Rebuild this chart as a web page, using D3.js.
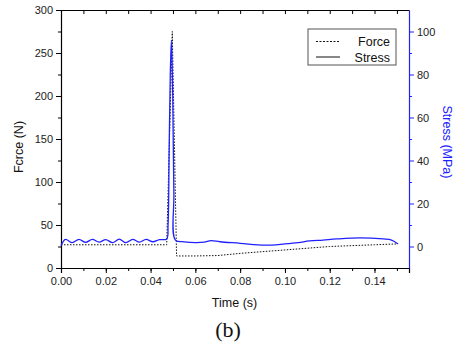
<!DOCTYPE html>
<html>
<head>
<meta charset="utf-8">
<script src="https://cdn.jsdelivr.net/npm/d3@7"></script>
<style>
  body { margin: 0; background: #fff; }
  text { font-family: "Liberation Sans", Arial, sans-serif; }
</style>
</head>
<body>
<div id="chart"></div>
<script>
// Force (N), left axis
const forceTime = [0, 0.0472, 0.0497, 0.0516, 0.060, 0.070, 0.080, 0.090, 0.100, 0.110, 0.120, 0.130, 0.140, 0.150];
const forceVals = [27, 27, 275, 14, 14, 14.5, 17, 19, 21, 23, 25, 26, 27, 28];

// Stress (MPa), right axis
const stressTime = [0, 0.002, 0.005, 0.008, 0.011, 0.014, 0.017, 0.020, 0.023, 0.026, 0.029, 0.032, 0.035,
  0.038, 0.041, 0.044, 0.0472, 0.0478, 0.0483, 0.0488, 0.0493, 0.0499, 0.0504, 0.0511,
  0.055, 0.060, 0.064, 0.067, 0.071, 0.080, 0.091, 0.100, 0.106, 0.111, 0.117, 0.123, 0.1335, 0.1439, 0.1476, 0.1505];
const stressVals = [0.4, 3.3, 1.8, 3.3, 1.9, 3.3, 2.0, 3.2, 1.8, 3.4, 1.8, 3.3, 2.0,
  3.3, 2.2, 3.2, 3.5, 10, 45, 80, 96, 70, 25, 3,
  2.2, 1.8, 2.0, 2.7, 2.2, 1.5, 0.6, 1.2, 1.8, 2.6, 3.0, 3.5, 4.0, 3.5, 3.0, 1.2];

const xTicks = [0, 0.02, 0.04, 0.06, 0.08, 0.10, 0.12, 0.14];
const forceTicks = [0, 50, 100, 150, 200, 250, 300];
const stressTicks = [0, 20, 40, 60, 80, 100];

const W = 456, H = 348;
const m = { left: 61, right: 47, top: 10, bottom: 80 };
const iw = W - m.left - m.right, ih = H - m.top - m.bottom;
const blue = "#2020ff";

const svg = d3.select("#chart").append("svg")
  .attr("width", W).attr("height", H);
const g = svg.append("g")
  .attr("transform", "translate(" + m.left + "," + m.top + ")");

const x = d3.scaleLinear().domain([0, 0.1554]).range([0, iw]);
const yF = d3.scaleLinear().domain([0, 300]).range([ih, 0]);
const yS = d3.scaleLinear().domain([-10, 110]).range([ih, 0]);

// minor ticks
const minorX = d3.range(0, 0.155, 0.01);
const minorF = d3.range(25, 300, 50);
const minorS = d3.range(10, 110, 20);

function styleAxis(sel, color) {
  sel.selectAll("path").attr("stroke", color).attr("stroke-width", 1.2);
  sel.selectAll("line").attr("stroke", color);
  sel.selectAll("text").attr("fill", "#222").style("font-size", "11px")
    .style("font-family", "Liberation Sans, Arial, sans-serif");
}

// bottom axis
const bx = g.append("g").attr("transform", "translate(0," + ih + ")")
  .call(d3.axisBottom(x).tickValues(xTicks).tickFormat(d3.format(".2f")).tickSizeOuter(0).tickSize(5).tickPadding(4));
styleAxis(bx, "#000");
g.append("g").attr("transform", "translate(0," + ih + ")")
  .call(d3.axisBottom(x).tickValues(minorX).tickFormat("").tickSize(3).tickSizeOuter(0))
  .call(s => s.select("path").remove())
  .call(s => styleAxis(s, "#000"));

// top axis (inward ticks)
const tx = g.append("g")
  .call(d3.axisBottom(x).tickValues(minorX).tickFormat("").tickSize(4).tickSizeOuter(0));
styleAxis(tx, "#000");

// left axis
const ly = g.append("g")
  .call(d3.axisLeft(yF).tickValues(forceTicks).tickSize(5).tickSizeOuter(0).tickPadding(3));
styleAxis(ly, "#000");
g.append("g")
  .call(d3.axisLeft(yF).tickValues(minorF).tickFormat("").tickSize(3))
  .call(s => s.select("path").remove())
  .call(s => styleAxis(s, "#000"));

// right axis (blue)
const ry = g.append("g").attr("transform", "translate(" + iw + ",0)")
  .call(d3.axisRight(yS).tickValues(stressTicks).tickSize(5).tickSizeOuter(0).tickPadding(3));
styleAxis(ry, blue);
g.append("g").attr("transform", "translate(" + iw + ",0)")
  .call(d3.axisRight(yS).tickValues(minorS).tickFormat("").tickSize(3))
  .call(s => s.select("path").remove())
  .call(s => styleAxis(s, blue));

// lines
const forceData = forceTime.map((t, i) => [t, forceVals[i]]);
const stressData = stressTime.map((t, i) => [t, stressVals[i]]);

g.append("path").datum(forceData)
  .attr("fill", "none").attr("stroke", "#111").attr("stroke-width", 1)
  .attr("stroke-dasharray", "1.5,1.5")
  .attr("d", d3.line().x(d => x(d[0])).y(d => yF(d[1])));

g.append("path").datum(stressData)
  .attr("fill", "none").attr("stroke", blue).attr("stroke-width", 1.3)
  .attr("d", d3.line().curve(d3.curveCatmullRom.alpha(0.5)).x(d => x(d[0])).y(d => yS(d[1])));

// axis titles
svg.append("text").attr("x", m.left + x(0.0775)).attr("y", 307)
  .attr("text-anchor", "middle").style("font-size", "12.5px").attr("fill", "#111")
  .text("Time (s)");
svg.append("text").attr("transform", "translate(23,147) rotate(-90)")
  .attr("text-anchor", "middle").style("font-size", "12.5px").attr("fill", "#111")
  .text("Fcrce (N)");
svg.append("text").attr("transform", "translate(443,142) rotate(90)")
  .attr("text-anchor", "middle").style("font-size", "12.5px").attr("fill", blue)
  .text("Stress (MPa)");
svg.append("text").attr("x", 228).attr("y", 337)
  .attr("text-anchor", "middle").style("font-size", "22px")
  .style("font-family", "Liberation Serif, Times New Roman, serif").attr("fill", "#111")
  .text("(b)");

// legend
const lg = svg.append("g").attr("transform", "translate(308,29)");
lg.append("rect").attr("width", 88).attr("height", 36)
  .attr("fill", "#fff").attr("stroke", "#555").attr("stroke-width", 1);
const legendItems = [["Force", "2,1.5"], ["Stress", null]];
legendItems.forEach((d, i) => {
  const yy = 12.5 + i * 15.5;
  lg.append("line").attr("x1", 8).attr("x2", 32).attr("y1", yy).attr("y2", yy)
    .attr("stroke", "#111").attr("stroke-width", 1)
    .attr("stroke-dasharray", d[1]);
  lg.append("text").attr("x", 82).attr("y", yy + 4.5).attr("text-anchor", "end")
    .style("font-size", "12.5px").attr("fill", "#111").text(d[0]);
});
</script>
</body>
</html>
